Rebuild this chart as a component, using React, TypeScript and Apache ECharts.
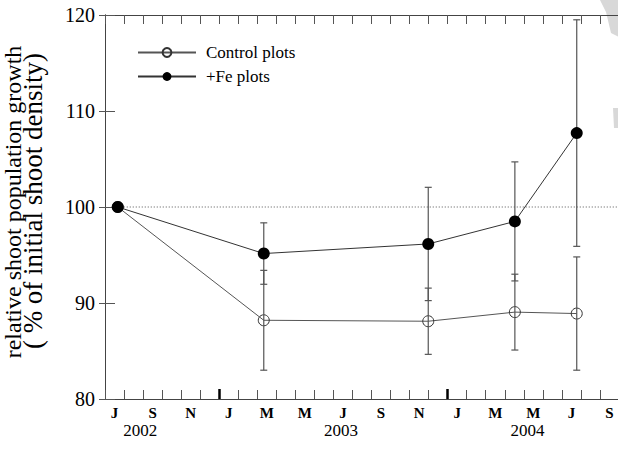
import React, { useEffect, useRef } from "react";
import * as echarts from "echarts";

// x values: months since 1 July 2002
const sampleMonths = [0.67, 8.34, 16.98, 21.53, 24.78];
const controlValues = [100, 88.2, 88.1, 89.05, 88.9];
const controlErrors = [0, 5.2, 3.45, 3.95, 5.9];
const feValues = [100, 95.15, 96.15, 98.5, 107.7];
const feErrors = [0, 3.2, 5.9, 6.2, 11.8];
const monthLetters = ["J", "F", "M", "A", "M", "J", "J", "A", "S", "O", "N", "D"];
const monthLabelPositions = [0.5, 2.5, 4.5, 6.5, 8.5, 10.5, 12.5, 14.5, 16.5, 18.5, 20.5, 22.5, 24.5, 26.5];
const yearBoundaries = [6, 18];
const yearLabels = ["2002", "2003", "2004"];
const yearLabelPositions = [1.85, 12.4, 22.2];
const yTicks = { min: 80, max: 120, interval: 10 };
const referenceLevel = 100;
const seriesNames = ["Control plots", "+Fe plots"];
const yTitleLines = ["relative shoot population growth", "( % of initial shoot density)"];

const FONT = "Liberation Serif";

export default function App() {
  const ref = useRef<HTMLDivElement>(null);
  useEffect(() => {
    if (!ref.current) return;
    const chart = echarts.init(ref.current, null, { renderer: "svg" });
    const errData = (vals: number[], errs: number[]) =>
      sampleMonths
        .map((m, i) => [m, vals[i] - errs[i], vals[i] + errs[i]])
        .filter((d, i) => errs[i] > 0);
    const allErr = [...errData(controlValues, controlErrors), ...errData(feValues, feErrors)];
    const axisCol = "#444";
    const baseX = { type: "value", min: 0, max: 27, interval: 1, splitLine: { show: false } };
    const option: any = {
      animation: false,
      backgroundColor: "#fff",
      textStyle: { fontFamily: FONT },
      grid: { left: 105, right: 6, top: 15, bottom: 52 },
      legend: {
        data: seriesNames,
        orient: "vertical",
        left: 137,
        top: 44,
        itemWidth: 58,
        itemHeight: 11,
        itemGap: 7,
        padding: 0,
        textStyle: { fontFamily: FONT, fontSize: 17, color: "#000", padding: [0, 0, 0, 5] },
      },
      xAxis: [
        {
          ...baseX,
          position: "bottom",
          axisLine: { show: true, lineStyle: { color: axisCol, width: 1 } },
          axisTick: { show: true, inside: true, length: 9, lineStyle: { color: "#555" } },
          axisLabel: {
            show: true,
            customValues: monthLabelPositions,
            formatter: (v: number) => monthLetters[(6 + Math.floor(v)) % 12],
            fontFamily: FONT,
            fontSize: 15,
            fontWeight: "bold",
            color: "#000",
            margin: 6,
          },
        },
        {
          ...baseX,
          position: "top",
          axisLine: { show: true, lineStyle: { color: axisCol, width: 1 } },
          axisTick: { show: true, inside: true, length: 9, lineStyle: { color: "#555" } },
          axisLabel: { show: false },
        },
        {
          ...baseX,
          position: "bottom",
          axisLine: { show: false },
          axisTick: { show: true, inside: true, length: 10, customValues: yearBoundaries, lineStyle: { color: "#000", width: 2.5 } },
          axisLabel: { show: false },
        },
        {
          ...baseX,
          position: "bottom",
          axisLine: { show: false },
          axisTick: { show: false },
          axisLabel: {
            show: true,
            customValues: yearLabelPositions,
            formatter: (v: number) => yearLabels[yearLabelPositions.indexOf(v)] ?? "",
            fontFamily: FONT,
            fontSize: 17,
            color: "#000",
            margin: 23,
          },
        },
      ],
      yAxis: [
        {
          type: "value",
          ...yTicks,
          position: "left",
          splitLine: { show: false },
          axisLine: { show: true, lineStyle: { color: axisCol, width: 1 } },
          axisTick: { show: true, inside: true, length: 10, lineStyle: { color: "#555" } },
          axisLabel: { fontFamily: FONT, fontSize: 20, color: "#000", margin: 10 },
        },
        {
          type: "value",
          ...yTicks,
          position: "right",
          splitLine: { show: false },
          axisLine: { show: true, lineStyle: { color: axisCol, width: 1 } },
          axisTick: { show: true, inside: true, length: 6, lineStyle: { color: "#555" } },
          axisLabel: { show: false },
        },
      ],
      series: [
        {
          type: "line",
          name: "ref",
          data: [
            [sampleMonths[0], referenceLevel],
            [27, referenceLevel],
          ],
          symbol: "none",
          silent: true,
          lineStyle: { color: "#555", width: 1, type: [1, 2] },
          z: 1,
        },
        {
          type: "line",
          name: seriesNames[0],
          data: sampleMonths.map((m, i) => [m, controlValues[i]]),
          symbol: "circle",
          symbolSize: 11,
          itemStyle: { color: "rgba(255,255,255,0)", borderColor: "#333", borderWidth: 1 },
          lineStyle: { color: "#555", width: 1 },
          z: 2,
        },
        {
          type: "custom",
          name: "err",
          data: allErr,
          silent: true,
          z: 3,
          renderItem: (params: any, api: any) => {
            const x = api.value(0);
            const top = api.coord([x, api.value(2)]);
            const bot = api.coord([x, api.value(1)]);
            const w = 3.5;
            const st = { stroke: "#555", lineWidth: 1.2 };
            return {
              type: "group",
              children: [
                { type: "line", shape: { x1: top[0], y1: top[1], x2: bot[0], y2: bot[1] }, style: st },
                { type: "line", shape: { x1: top[0] - w, y1: top[1], x2: top[0] + w, y2: top[1] }, style: st },
                { type: "line", shape: { x1: bot[0] - w, y1: bot[1], x2: bot[0] + w, y2: bot[1] }, style: st },
              ],
            };
          },
        },
        {
          type: "line",
          name: seriesNames[1],
          data: sampleMonths.map((m, i) => [m, feValues[i]]),
          symbol: "circle",
          symbolSize: 12,
          itemStyle: { color: "#000" },
          lineStyle: { color: "#333", width: 1 },
          z: 4,
        },
      ],
      graphic: [
        {
          type: "text",
          x: 12.5,
          y: 202,
          rotation: Math.PI / 2,
          style: {
            text: yTitleLines[0],
            font: `24px ${FONT}`,
            fill: "#000",
            textAlign: "center",
            textVerticalAlign: "middle",
          },
        },
        {
          type: "text",
          x: 33,
          y: 201,
          rotation: Math.PI / 2,
          style: {
            text: yTitleLines[1],
            font: `27px ${FONT}`,
            fill: "#000",
            textAlign: "center",
            textVerticalAlign: "middle",
          },
        },
        {
          type: "polygon",
          shape: { points: [[600, 0], [625, 0], [625, 40], [611, 33], [606, 12]] },
          style: { fill: "#d8d8d8" },
          silent: true,
        },
        {
          type: "polygon",
          shape: { points: [[613, 108], [625, 108], [625, 128], [614, 128]] },
          style: { fill: "#d8d8d8" },
          silent: true,
        },
      ],
    };
    chart.setOption(option);
    return () => chart.dispose();
  }, []);
  return (
    <div style={{ position: "absolute", left: 0, top: 0, width: 618, height: 451, overflow: "hidden", background: "#fff" }}>
      <div ref={ref} style={{ width: 625, height: 451 }} />
    </div>
  );
}
